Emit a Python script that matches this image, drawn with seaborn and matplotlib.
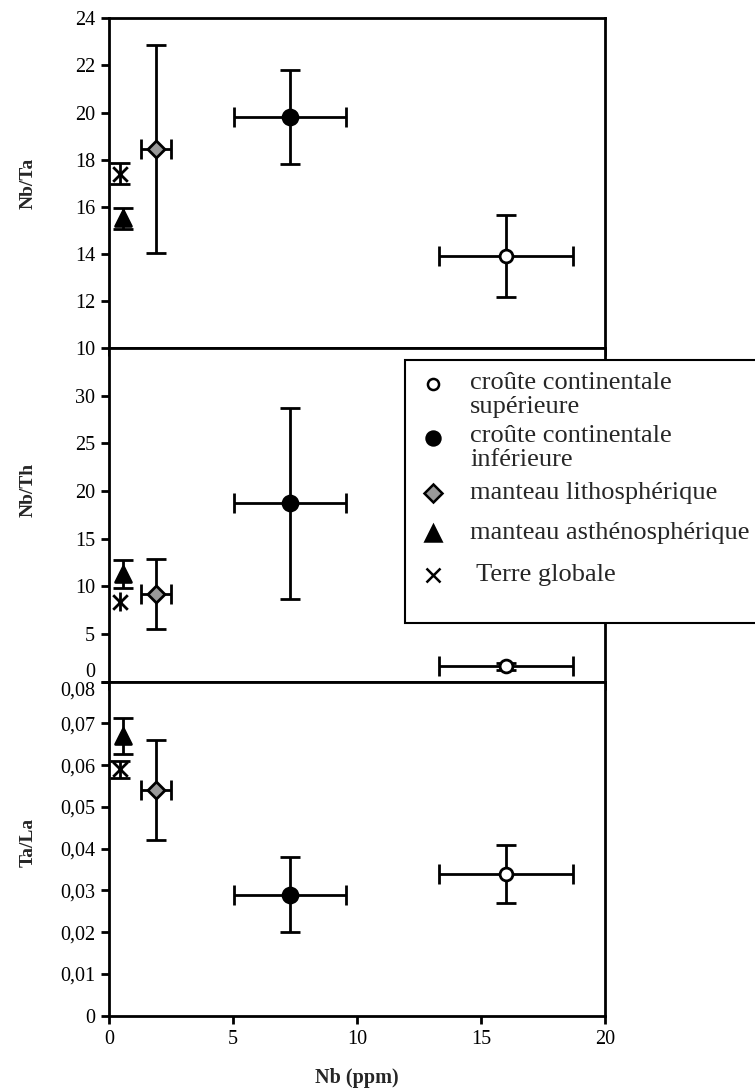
import matplotlib
matplotlib.use("Agg")
import matplotlib.pyplot as plt
from matplotlib.lines import Line2D
from matplotlib.patches import Rectangle
from matplotlib.ticker import FuncFormatter
import numpy as np
import pandas as pd
import seaborn as sns

# Reservoirs
groups = ["croûte continentale\nsupérieure", "croûte continentale\ninférieure",
          "manteau lithosphérique", "manteau asthénosphérique", " Terre globale"]

# Nb (ppm) and its uncertainty
nb = [16.0, 7.3, 1.9, 0.55, 0.45]
nb_err = [2.7, 2.25, 0.6, 0.0, 0.0]

# Ratios and uncertainties
nb_ta = [13.9, 19.8, 18.45, 15.5, 17.4]
nb_ta_err = [1.75, 2.0, 4.4, 0.45, 0.45]

nb_th = [1.6, 18.7, 9.2, 11.3, 8.4]
nb_th_err = [0.4, 10.0, 3.65, 1.5, 1.0]

ta_la = [0.034, 0.029, 0.054, 0.067, 0.059]
ta_la_err = [0.007, 0.009, 0.012, 0.0042, 0.002]

x_ticks = [0, 5, 10, 15, 20]
nb_ta_ticks = [10, 12, 14, 16, 18, 20, 22, 24]
nb_th_ticks = [0, 5, 10, 15, 20, 25, 30]
ta_la_ticks = [0, 0.01, 0.02, 0.03, 0.04, 0.05, 0.06, 0.07, 0.08]

sns.set_style("ticks")
plt.rcParams["font.family"] = ["Liberation Serif", "DejaVu Serif"]

markers = ["o", "o", "D", "^", "x"]
faces = ["white", "black", "#999999", "black", "black"]
sizes = [85, 115, 75, 130, 110]

fig = plt.figure(figsize=(7.55, 10.9), dpi=100)
W, H = 755, 1090
left, right = 109, 605


def make_ax(top_px, bottom_px):
    return fig.add_axes([left / W, 1 - bottom_px / H, (right - left) / W, (bottom_px - top_px) / H])


ax_top = make_ax(18.3, 348.0)
ax_mid = make_ax(348.0, 681.7)
ax_bot = make_ax(681.7, 1015.7)

panels = [
    (ax_top, nb_ta, nb_ta_err, (10, 24), nb_ta_ticks, [7.2] * 5),
    (ax_mid, nb_th, nb_th_err, (0, 35), nb_th_ticks, [7.2, 7.2, 7.2, 7.2, 0]),
    (ax_bot, ta_la, ta_la_err, (0, 0.08), ta_la_ticks, [7.2] * 5),
]

for ax, yv, ye, ylim, yt, caps in panels:
    df = pd.DataFrame({"group": groups, "nb": nb, "nb_err": nb_err, "y": yv, "y_err": ye})
    for i, row in df.iterrows():
        ax.errorbar(row["nb"], row["y"], yerr=row["y_err"],
                    xerr=row["nb_err"] if row["nb_err"] > 0 else None,
                    fmt="none", ecolor="black", elinewidth=2, capsize=caps[i],
                    capthick=2, zorder=2)
    for i, row in df.iterrows():
        sub = df.iloc[[i]]
        if markers[i] == "x":
            sns.scatterplot(data=sub, x="nb", y="y", marker="x", s=sizes[i],
                            color="black", linewidth=2, ax=ax, zorder=3, legend=False)
        else:
            sns.scatterplot(data=sub, x="nb", y="y", marker=markers[i], s=sizes[i],
                            color=faces[i], edgecolor="black", linewidth=2,
                            ax=ax, zorder=3, legend=False)
    ax.set_xlim(0, 20)
    ax.set_ylim(*ylim)
    ax.set_xticks(x_ticks)
    ax.set_yticks(yt)
    ax.set_xlabel("")
    ax.set_ylabel("")
    for s in ax.spines.values():
        s.set_visible(True)
        s.set_linewidth(2)
        s.set_color("black")
    ax.tick_params(direction="out", length=6, width=2, colors="black",
                   labelsize=14.5, pad=4)
    ax.set_facecolor("white")

ax_top.tick_params(labelbottom=False)
ax_mid.tick_params(labelbottom=False)
ax_bot.yaxis.set_major_formatter(FuncFormatter(lambda v, p: "0" if v == 0 else f"{v:.2f}".replace(".", ",")))

fig.canvas.draw()
ax_mid.get_yticklabels()[0].set_verticalalignment("bottom")
ax_bot.get_yticklabels()[-1].set_verticalalignment("top")

# Axis titles
for label, ypx in [("Nb/Ta", 183), ("Nb/Th", 490), ("Ta/La", 842)]:
    fig.text(28 / W, 1 - ypx / H, label, rotation=90, ha="center", va="center",
             fontsize=14, fontweight="bold")
fig.text(357 / W, 1 - 1078 / H, "Nb (ppm)", ha="center", va="center",
         fontsize=14.5, fontweight="bold")

# Legend box, drawn in figure pixels
box = Rectangle((405 / W, 1 - 623 / H), (765 - 405) / W, (623 - 360) / H,
                transform=fig.transFigure, facecolor="white", edgecolor="black",
                linewidth=1.5, zorder=10)
fig.add_artist(box)

marker_y = [384, 438, 493, 533, 575]
text_y = [395, 448, 493, 533, 575]
line_gap = [1.15, 1.15, 1.0, 1.0, 1.0]
leg_ms = [8, 10, 9, 11, 10]
for i, g in enumerate(groups):
    if markers[i] == "x":
        h = Line2D([433 / W], [1 - marker_y[i] / H], transform=fig.transFigure,
                   linestyle="none", marker="x", markersize=leg_ms[i],
                   markeredgecolor="black", markeredgewidth=1.8, zorder=11)
    else:
        h = Line2D([433 / W], [1 - marker_y[i] / H], transform=fig.transFigure,
                   linestyle="none", marker=markers[i], markersize=leg_ms[i],
                   markerfacecolor=faces[i], markeredgecolor="black",
                   markeredgewidth=1.8, zorder=11)
    fig.add_artist(h)
    fig.text(470 / W, 1 - text_y[i] / H, g, ha="left", va="center", fontsize=19,
             linespacing=line_gap[i], zorder=12)

fig.savefig("out.png", dpi=100, facecolor="white")
